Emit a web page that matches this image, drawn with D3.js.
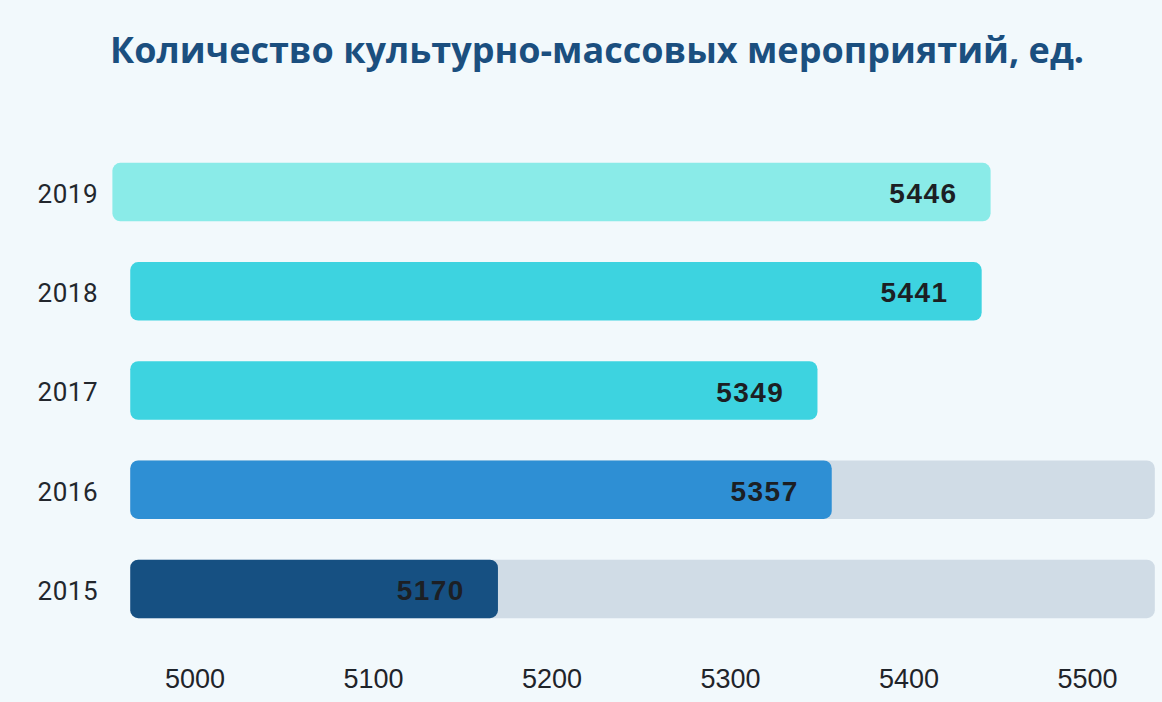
<!DOCTYPE html>
<html>
<head>
<meta charset="utf-8">
<script src="https://cdn.jsdelivr.net/npm/d3@7"></script>
<style>
  body { margin: 0; background: #f2f9fc; }
  svg { display: block; }
</style>
</head>
<body>
<div id="chart"></div>
<script>
const years = ["2019", "2018", "2017", "2016", "2015"];
const values = [5446, 5441, 5349, 5357, 5170];
const barStarts = [4954, 4964, 4964, 4964, 4964];
const hasTrack = [false, false, false, true, true];
const colors = ["#8aebe8", "#3dd3e0", "#3dd3e0", "#2e8fd4", "#165082"];
const ticks = [5000, 5100, 5200, 5300, 5400, 5500];
const trackEnd = 5538;

const width = 1162, height = 702;

const svg = d3.select("#chart")
  .append("svg")
  .attr("width", width)
  .attr("height", height);

svg.append("rect")
  .attr("width", width)
  .attr("height", height)
  .attr("fill", "#f2f9fc");

svg.append("text")
  .attr("x", 597)
  .attr("y", 63)
  .attr("text-anchor", "middle")
  .style("font-family", "'Open Sans', sans-serif")
  .style("font-weight", "700")
  .style("font-size", "36px")
  .style("fill", "#1b4f7f")
  .text("Количество культурно-массовых мероприятий, ед.");

const x = d3.scaleLinear().domain([5000, 5500]).range([194.5, 1087]);
const y = d3.scaleBand().domain(years).range([143, 638]).paddingInner(0.41).paddingOuter(0.2);

const data = years.map((year, i) => ({
  year, value: values[i], start: barStarts[i], track: hasTrack[i], color: colors[i]
}));

// grey tracks
svg.append("g")
  .selectAll("rect")
  .data(data.filter(d => d.track))
  .enter().append("rect")
  .attr("x", d => x(d.start))
  .attr("y", d => y(d.year))
  .attr("width", d => x(trackEnd) - x(d.start))
  .attr("height", y.bandwidth())
  .attr("rx", 8)
  .attr("fill", "#d0dce6");

svg.append("g")
  .selectAll("rect")
  .data(data)
  .enter().append("rect")
  .attr("x", d => x(d.start))
  .attr("y", d => y(d.year))
  .attr("width", d => x(d.value) - x(d.start))
  .attr("height", y.bandwidth())
  .attr("rx", 8)
  .attr("fill", d => d.color);

// value labels
svg.selectAll("text.label")
  .data(data)
  .enter().append("text")
  .attr("class", "label")
  .attr("x", d => x(d.value) - 33)
  .attr("y", d => y(d.year) + y.bandwidth() / 2 + 11)
  .attr("text-anchor", "end")
  .style("font-family", "'Liberation Sans', Arial, sans-serif")
  .style("font-weight", "700")
  .style("font-size", "28px")
  .style("letter-spacing", "1.5px")
  .style("fill", "#1c1f24")
  .text(d => d.value);

// year axis
const yAxis = svg.append("g")
  .attr("transform", "translate(98,0)")
  .call(d3.axisLeft(y).tickSize(0).tickPadding(0));
yAxis.select(".domain").remove();
yAxis.selectAll("text")
  .attr("dy", "0.42em")
  .style("font-family", "Roboto, sans-serif")
  .style("font-size", "26px")
  .style("letter-spacing", "0.5px")
  .style("fill", "#23272d");

// value axis
const xAxis = svg.append("g")
  .attr("transform", "translate(0,688)")
  .call(d3.axisBottom(x).tickValues(ticks).tickFormat(d3.format("d")).tickSize(0).tickPadding(0));
xAxis.select(".domain").remove();
xAxis.selectAll("text")
  .attr("y", 0)
  .attr("dy", 0)
  .style("font-family", "'Liberation Sans', Arial, sans-serif")
  .style("font-size", "27px")
  .style("fill", "#1f242a");
</script>
</body>
</html>
